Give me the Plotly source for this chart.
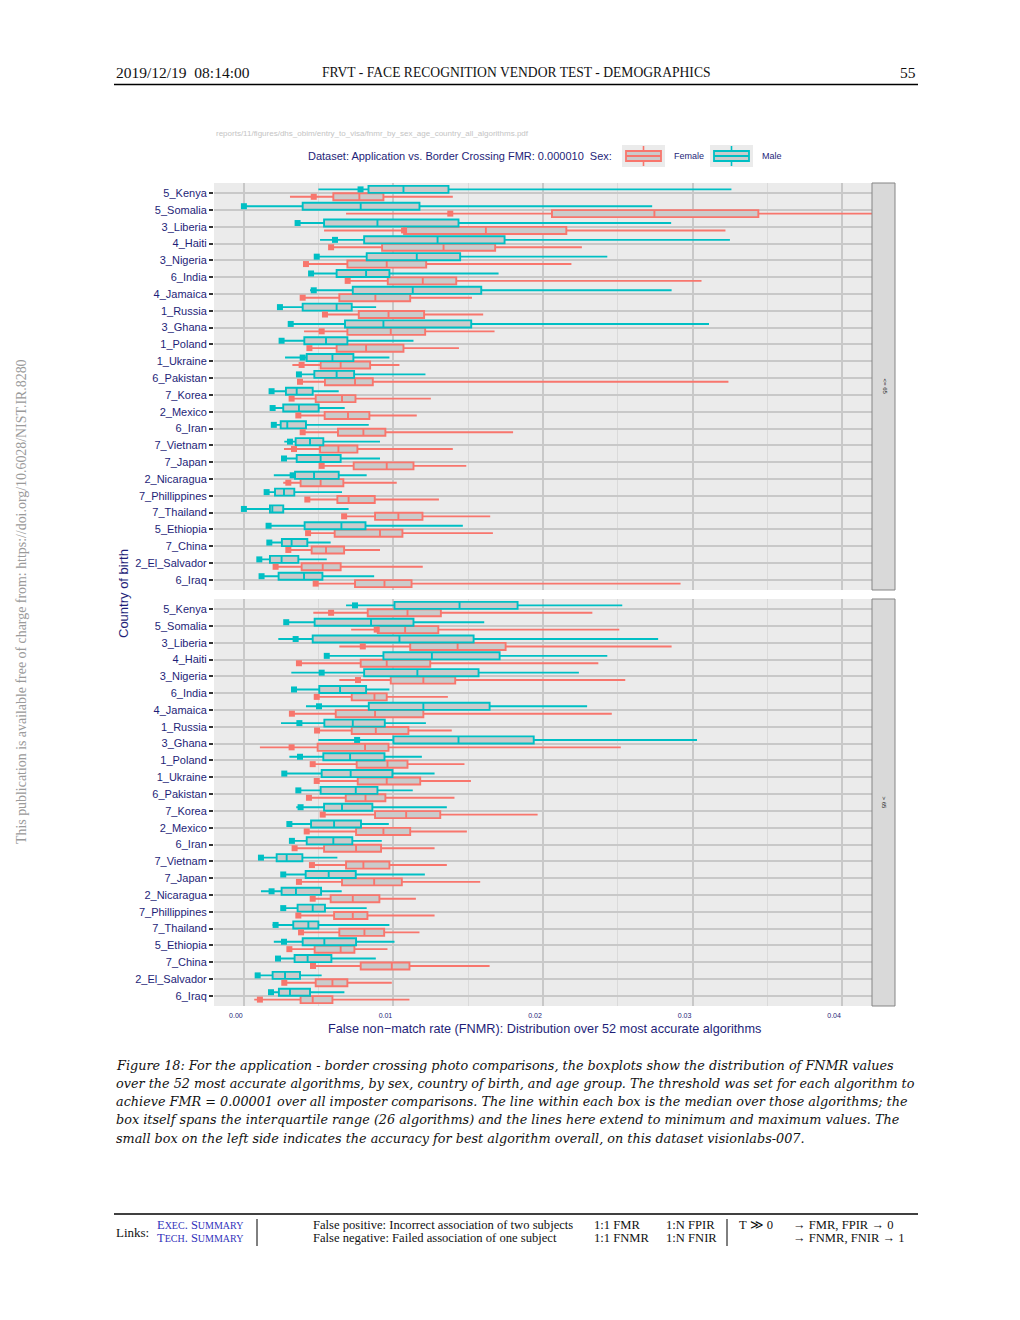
import plotly.graph_objects as go

# ---------------- data (FNMR values, in units of 1e-3) ----------------
countries = ["5_Kenya", "5_Somalia", "3_Liberia", "4_Haiti", "3_Nigeria", "6_India",
             "4_Jamaica", "1_Russia", "3_Ghana", "1_Poland", "1_Ukraine", "6_Pakistan",
             "7_Korea", "2_Mexico", "6_Iran", "7_Vietnam", "7_Japan", "2_Nicaragua",
             "7_Phillippines", "7_Thailand", "5_Ethiopia", "7_China", "2_El_Salvador", "6_Iraq"]
age_groups = ["&lt;= 65", "&gt; 65"]
sexes = ["Female", "Male"]
x_tick_vals = [0.0, 0.01, 0.02, 0.03, 0.04]
x_tick_labels = ["0.00", "0.01", "0.02", "0.03", "0.04"]

# age group 1 (top panel), Male
a1_male_min = [4.98, 0.0, 3.59, 5.09, 4.7, 4.45, 4.42, 2.25, 3.13, 2.52, 2.75, 3.55, 1.85, 1.92, 2.0, 2.7, 2.68, 2.0, 1.52, 0.0, 1.65, 1.7, 1.03, 1.18]
a1_male_q1 = [8.33, 3.93, 5.36, 8.04, 8.21, 6.2, 7.28, 3.93, 6.76, 4.04, 4.2, 4.71, 2.81, 2.63, 2.46, 3.46, 3.53, 3.42, 2.08, 1.74, 4.06, 2.54, 1.74, 2.32]
a1_male_med = [10.67, 7.81, 8.93, 12.95, 11.56, 8.17, 11.29, 6.2, 9.33, 5.49, 5.92, 6.2, 3.53, 3.68, 2.9, 4.42, 5.13, 4.69, 2.68, 1.9, 6.52, 3.19, 2.52, 4.02]
a1_male_q3 = [13.68, 11.74, 14.35, 17.43, 14.46, 9.73, 15.87, 7.21, 15.2, 6.92, 7.32, 7.37, 4.6, 5.0, 4.15, 5.31, 6.47, 6.34, 3.37, 2.63, 8.13, 4.24, 3.64, 5.25]
a1_male_max = [32.6, 27.3, 28.57, 32.5, 24.3, 17.03, 28.6, 8.84, 31.1, 11.34, 9.73, 12.14, 6.34, 6.74, 8.35, 9.1, 9.1, 8.21, 6.56, 7.0, 14.64, 5.8, 5.54, 8.71]
a1_male_best = [7.8, 0.0, 3.59, 6.09, 4.87, 4.49, 4.67, 2.41, 3.13, 2.52, 3.93, 3.68, 1.85, 1.92, 2.0, 3.08, 2.68, 3.26, 1.52, 0.0, 1.65, 1.7, 1.03, 1.18]

# age group 1 (top panel), Female
a1_female_min = [3.08, 6.83, 5.36, 5.72, 3.97, 6.85, 3.75, 5.3, 4.02, 4.25, 3.24, 3.6, 3.1, 3.55, 3.85, 2.68, 5.1, 2.63, 4.24, 6.7, 4.2, 2.85, 2.0, 4.7]
a1_female_q1 = [5.98, 20.6, 10.71, 9.24, 6.92, 9.62, 6.38, 7.68, 6.92, 6.2, 5.13, 5.42, 4.8, 5.4, 6.29, 5.09, 7.34, 3.79, 6.25, 8.77, 6.07, 4.53, 3.86, 7.43]
a1_female_med = [7.72, 27.45, 16.18, 13.35, 9.55, 11.96, 8.79, 9.67, 9.82, 8.17, 6.47, 7.43, 6.56, 6.96, 7.99, 6.32, 9.55, 5.13, 7.0, 10.33, 9.1, 5.49, 5.27, 9.4]
a1_female_q3 = [9.33, 34.4, 21.56, 16.8, 12.19, 14.2, 11.12, 12.05, 12.12, 10.67, 8.44, 8.62, 7.46, 8.39, 9.46, 7.59, 11.34, 6.65, 8.75, 11.94, 10.6, 6.7, 6.47, 11.21]
a1_female_max = [13.97, 45.0, 32.2, 22.6, 21.9, 30.6, 15.25, 16.0, 16.76, 14.38, 10.4, 32.4, 12.5, 11.56, 18.0, 13.97, 14.87, 10.22, 13.04, 16.47, 16.65, 9.1, 11.96, 29.2]
a1_female_best = [4.67, 13.8, 10.71, 5.83, 4.15, 6.94, 3.93, 5.42, 5.2, 4.38, 3.86, 3.75, 3.19, 3.64, 3.93, 3.35, 5.2, 2.97, 4.24, 6.7, 4.29, 2.97, 2.12, 4.8]

# age group 2 (bottom panel), Male
a2_male_min = [6.83, 2.83, 2.3, 5.54, 3.17, 3.35, 4.15, 2.48, 4.98, 3.04, 2.7, 3.55, 3.5, 3.04, 3.21, 1.14, 2.63, 1.14, 2.63, 1.92, 2.0, 2.28, 0.92, 1.65]
a2_male_q1 = [10.07, 4.73, 4.6, 9.33, 8.04, 5.04, 8.35, 5.38, 10.0, 5.31, 5.2, 5.13, 5.36, 4.49, 4.2, 2.19, 4.13, 2.52, 3.59, 3.3, 3.93, 3.39, 1.92, 2.34]
a2_male_med = [14.42, 8.5, 10.4, 12.57, 11.6, 6.43, 12.0, 7.28, 14.35, 7.1, 7.14, 7.48, 6.56, 6.03, 5.98, 2.86, 5.67, 3.48, 4.6, 4.31, 5.38, 4.26, 2.75, 3.08]
a2_male_q3 = [18.3, 11.34, 15.36, 17.1, 15.69, 8.17, 16.43, 9.42, 19.38, 9.4, 9.93, 8.93, 8.59, 7.83, 7.25, 3.91, 7.48, 5.16, 5.42, 4.98, 7.5, 5.85, 3.75, 4.42]
a2_male_max = [25.3, 16.07, 27.7, 24.3, 22.4, 9.73, 22.95, 12.17, 30.3, 11.9, 12.75, 11.29, 13.57, 9.69, 9.22, 6.25, 12.1, 6.54, 8.21, 9.73, 10.07, 8.82, 5.2, 6.72]
a2_male_best = [7.43, 2.83, 3.46, 5.54, 5.2, 3.35, 5.02, 3.71, 7.57, 3.75, 2.7, 3.64, 3.79, 3.04, 3.21, 1.14, 2.63, 1.85, 2.63, 2.12, 2.68, 2.28, 0.92, 1.81]

# age group 2 (bottom panel), Female
a2_female_min = [4.64, 7.17, 6.38, 3.68, 6.38, 4.87, 3.21, 4.89, 1.07, 4.6, 4.75, 4.2, 5.27, 4.1, 3.39, 4.55, 3.68, 4.6, 3.64, 3.75, 3.04, 4.62, 2.7, 0.69]
a2_female_q1 = [8.28, 8.95, 11.12, 7.81, 9.82, 7.21, 6.14, 7.21, 4.93, 7.54, 7.61, 6.81, 8.77, 7.5, 5.36, 6.83, 6.56, 5.8, 6.03, 6.38, 4.73, 7.81, 4.8, 3.79]
a2_female_med = [10.94, 10.78, 14.29, 9.55, 12.0, 8.73, 8.77, 8.82, 8.1, 9.6, 9.55, 8.13, 10.85, 9.33, 7.5, 7.99, 8.71, 7.28, 7.28, 8.06, 6.47, 9.89, 5.92, 4.6]
a2_female_q3 = [13.17, 13.0, 17.5, 12.46, 14.13, 9.55, 12.0, 11.0, 9.67, 10.94, 11.79, 9.46, 13.13, 11.12, 9.17, 9.73, 10.56, 9.06, 8.26, 9.38, 7.39, 11.07, 6.92, 5.92]
a2_female_max = [23.3, 25.1, 28.6, 23.7, 25.5, 13.64, 24.6, 13.9, 25.2, 14.75, 15.18, 14.08, 19.64, 14.91, 12.75, 13.57, 15.8, 11.5, 12.75, 11.74, 9.6, 16.43, 9.89, 11.07]
a2_female_best = [5.83, 8.88, 7.95, 3.68, 7.63, 4.87, 3.21, 4.89, 3.19, 4.6, 4.87, 4.35, 5.27, 4.2, 3.39, 4.55, 3.68, 4.6, 3.64, 3.82, 3.04, 4.62, 2.7, 1.07]

UNIT = 1e-3

# ---------------- page geometry helpers ----------------
OFF = 8          # browser body margin
W, H = 1004, 1304


def X(px):
    return (px - OFF) / W


def Y(py):
    return 1 - (py - OFF) / H


NAVY = "#1E1E78"
TEAL = "#00BFC4"
SALMON = "#F8766D"
BOXFILL = "#CBCBCB"
SANS = "Liberation Sans"
SERIF = "Liberation Serif"
SERIF2 = "DejaVu Serif"

panels = [
    {"xa": "x", "ya": "y", "top": 183, "bot": 590,
     "Male": (a1_male_min, a1_male_q1, a1_male_med, a1_male_q3, a1_male_max, a1_male_best),
     "Female": (a1_female_min, a1_female_q1, a1_female_med, a1_female_q3, a1_female_max, a1_female_best)},
    {"xa": "x2", "ya": "y2", "top": 599, "bot": 1006,
     "Male": (a2_male_min, a2_male_q1, a2_male_med, a2_male_q3, a2_male_max, a2_male_best),
     "Female": (a2_female_min, a2_female_q1, a2_female_med, a2_female_q3, a2_female_max, a2_female_best)},
]
sex_color = {"Female": SALMON, "Male": TEAL}
sex_offset = {"Female": 0.22, "Male": -0.22}

fig = go.Figure()
for p in panels:
    for sex in sexes:
        mn, q1, md, q3, mx, best = p[sex]
        pos = [i + sex_offset[sex] for i in range(len(countries))]
        fig.add_trace(go.Box(
            orientation="h", y=pos,
            lowerfence=[v * UNIT for v in mn], q1=[v * UNIT for v in q1],
            median=[v * UNIT for v in md], q3=[v * UNIT for v in q3],
            upperfence=[v * UNIT for v in mx],
            width=0.42, whiskerwidth=0, boxpoints=False,
            line=dict(color=sex_color[sex], width=1.9), fillcolor=BOXFILL,
            xaxis=p["xa"], yaxis=p["ya"], showlegend=False, hoverinfo="skip"))
        fig.add_trace(go.Scatter(
            x=[v * UNIT for v in best], y=pos, mode="markers",
            marker=dict(symbol="square", size=6, color=sex_color[sex]),
            xaxis=p["xa"], yaxis=p["ya"], showlegend=False, hoverinfo="skip"))

xcommon = dict(domain=[X(214), X(872)], range=[-0.002, 0.042], tickvals=x_tick_vals,
               showgrid=True, gridcolor="#C8C8C8", gridwidth=1.8, zeroline=False,
               showline=False, ticks="", fixedrange=True,
               minor=dict(tickvals=[0.005, 0.015, 0.025, 0.035], showgrid=True,
                          gridcolor="#DADADA", gridwidth=0.8))
ycommon = dict(range=[23.6, -0.6], tickvals=list(range(len(countries))), ticktext=countries,
               ticks="outside", ticklen=4, tickwidth=2, tickcolor="#333333",
               tickfont=dict(family=SANS, size=11, color=NAVY),
               showgrid=True, gridcolor="#C8C8C8", gridwidth=1.8, zeroline=False,
               showline=False, fixedrange=True)

layout_axes = {}
layout_axes["xaxis"] = dict(xcommon, anchor="y", showticklabels=False)
layout_axes["xaxis2"] = dict(xcommon, anchor="y2", showticklabels=True, ticktext=x_tick_labels,
                             tickfont=dict(family=SANS, size=7, color=NAVY),
                             ticklabelshift=-8, ticklabelstandoff=4)
layout_axes["yaxis"] = dict(ycommon, anchor="x", domain=[Y(panels[0]["bot"]), Y(panels[0]["top"])])
layout_axes["yaxis2"] = dict(ycommon, anchor="x2", domain=[Y(panels[1]["bot"]), Y(panels[1]["top"])])

shapes = []
annotations = []


def text(px, py, s, size, color="#000000", family=SERIF, xanchor="left", angle=0, yanchor="middle"):
    annotations.append(dict(x=X(px), y=Y(py), xref="paper", yref="paper", text=s, showarrow=False,
                            xanchor=xanchor, yanchor=yanchor, textangle=angle,
                            font=dict(family=family, size=size, color=color)))


def hline(x0, x1, y, w=1.5, color="#000000"):
    shapes.append(dict(type="line", xref="paper", yref="paper", x0=X(x0), x1=X(x1), y0=Y(y), y1=Y(y),
                       line=dict(color=color, width=w)))


def vline(x, y0, y1, w=1.0, color="#000000"):
    shapes.append(dict(type="line", xref="paper", yref="paper", x0=X(x), x1=X(x), y0=Y(y0), y1=Y(y1),
                       line=dict(color=color, width=w)))


def rect(x0, x1, y0, y1, fill, line_color=None, w=1.0):
    shapes.append(dict(type="rect", xref="paper", yref="paper", x0=X(x0), x1=X(x1), y0=Y(y1), y1=Y(y0),
                       fillcolor=fill, line=dict(color=line_color or fill, width=w if line_color else 0),
                       layer="above"))


# facet strips
for p, lab in zip(panels, age_groups):
    rect(872, 895, p["top"], p["bot"], "#D9D9D9", "#858585", 1)
    text(884, (p["top"] + p["bot"]) / 2, lab, 6, "#1A1A1A", SANS, "center", 90)

# axis titles
text(123, 594, "Country of birth", 13, NAVY, SANS, "center", -90)
text(544, 1029, "False non\u2212match rate (FNMR): Distribution over 52 most accurate algorithms",
     12.7, NAVY, SANS, "center")

# file path and legend line
text(214, 133, "reports/11/figures/dhs_obim/entry_to_visa/fnmr_by_sex_age_country_all_algorithms.pdf",
     8, "#C4C4C4", SANS)
text(306, 156, "Dataset: Application vs. Border Crossing FMR: 0.000010\u00a0\u00a0Sex:", 11, NAVY, SANS)
for kx, sex in ((626, "Female"), (714, "Male")):
    c = sex_color[sex]
    rect(kx - 4, kx + 39, 145, 167, "#EBEBEB")
    vline(kx + 17.5, 146, 151, 1.6, c)
    vline(kx + 17.5, 161, 166, 1.6, c)
    rect(kx, kx + 35, 151, 161, BOXFILL, c, 1.8)
    hline(kx, kx + 35, 156, 1.8, c)
    text(kx + 46, 156, sex, 9, NAVY, SANS)

# page header
text(114, 73, "2019/12/19\u00a0\u00a008:14:00", 15.5, "#111111")
text(516, 73, "FRVT - FACE RECOGNITION VENDOR TEST - DEMOGRAPHICS", 13.6, "#111111", SERIF, "center")
text(918, 73, "55", 15.5, "#111111", SERIF, "right")
hline(114, 918, 84.5, 1.6)

# side note
text(22, 602, "This publication is available free of charge from: https://doi.org/10.6028/NIST.IR.8280",
     13.9, "#9A9A9A", SERIF, "center", -90)

# caption
caption_lines = [
    "Figure 18: For the application - border crossing photo comparisons, the boxplots show the distribution of FNMR values",
    "over the 52 most accurate algorithms, by sex, country of birth, and age group. The threshold was set for each algorithm to",
    "achieve FMR = 0.00001 over all imposter comparisons. The line within each box is the median over those algorithms; the",
    "box itself spans the interquartile range (26 algorithms) and the lines here extend to minimum and maximum values. The",
    "small box on the left side indicates the accuracy for best algorithm overall, on this dataset visionlabs-007.",
]
for k, line in enumerate(caption_lines):
    text(114, 1065 + k * 18.3, "<i>" + line + "</i>", 12.8, "#111111", SERIF2)

# footer
hline(114, 918, 1214, 1.6)
text(114, 1232, "Links:", 13, "#111111")
sc = "<span style='font-size:10px'>"
text(155, 1225, "E" + sc + "XEC</span>. S" + sc + "UMMARY</span>", 12.5, "#3333BB")
text(155, 1238, "T" + sc + "ECH</span>. S" + sc + "UMMARY</span>", 12.5, "#3333BB")
vline(257, 1219, 1246, 1.0)
text(311, 1225, "False positive: Incorrect association of two subjects", 12.6, "#111111")
text(311, 1238, "False negative: Failed association of one subject", 12.6, "#111111")
text(592, 1225, "1:1 FMR", 12.6, "#111111")
text(592, 1238, "1:1 FNMR", 12.6, "#111111")
text(664, 1225, "1:N FPIR", 12.6, "#111111")
text(664, 1238, "1:N FNIR", 12.6, "#111111")
vline(727, 1219, 1246, 1.0)
text(737, 1225, "T \u226b 0", 12.6, "#111111")
text(791, 1225, "\u2192 FMR, FPIR \u2192 0", 12.6, "#111111")
text(791, 1238, "\u2192 FNMR, FNIR \u2192 1", 12.6, "#111111")

fig.update_layout(
    width=W, height=H, margin=dict(l=0, r=0, t=0, b=0, pad=0),
    paper_bgcolor="#FFFFFF", plot_bgcolor="#EBEBEB",
    showlegend=False, shapes=shapes, annotations=annotations,
    **layout_axes)

fig.write_html("out.html")
